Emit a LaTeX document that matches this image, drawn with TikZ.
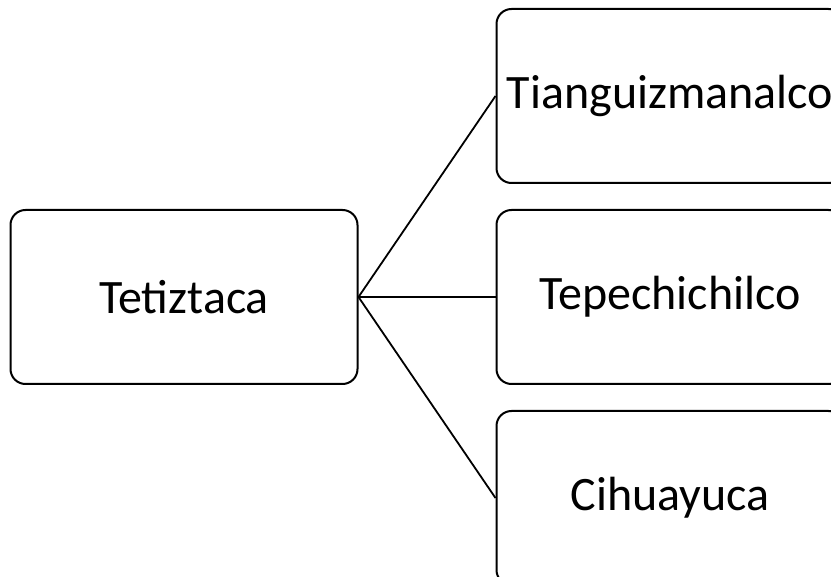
\documentclass[tikz,border=0pt]{standalone}
\usepackage{fontspec}
\setmainfont{Carlito}
\usetikzlibrary{positioning}
\begin{document}
\begin{tikzpicture}[x=1pt,y=-1pt,
  box/.style={draw,rounded corners=15pt,line width=2pt,
    minimum width=347pt,minimum height=174pt,
    font=\fontsize{48}{58}\selectfont},
  link/.style={line width=1.8pt}]
  \useasboundingbox (0,0) rectangle (831,577);
  \clip (0,0) rectangle (831,577);
  % root and its children
  \node[box] (tetiztaca) at (184,297) {Tetiztaca};
  \node[box] (tepechichilco) at (670,297) {Tepechichilco};
  \node[box,above=25pt of tepechichilco] (tianguizmanalco) {Tianguizmanalco};
  \node[box,below=25pt of tepechichilco] (cihuayuca) {Cihuayuca};
  \foreach \c in {tianguizmanalco,tepechichilco,cihuayuca}
    \draw[link] (tetiztaca.east) -- (\c.west);
\end{tikzpicture}
\end{document}
